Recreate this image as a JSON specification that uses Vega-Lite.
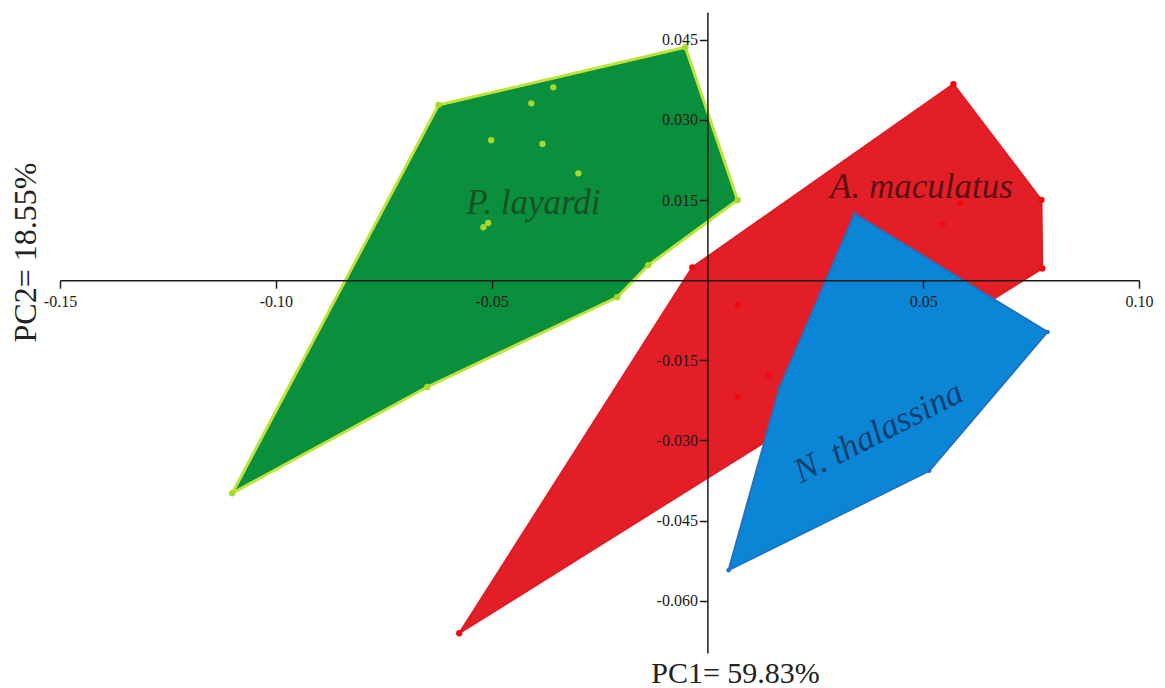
{
  "$schema": "https://vega.github.io/schema/vega-lite/v6.json",
  "width": 1079,
  "height": 641,
  "autosize": {"type": "none"},
  "padding": {"left": 60, "top": 12, "right": 26, "bottom": 35},
  "background": "white",
  "config": {
    "view": {"stroke": null},
    "axis": {
      "grid": false,
      "zindex": 1,
      "domainColor": "#1a1a1a",
      "domainWidth": 1.5,
      "tickColor": "#1a1a1a",
      "tickWidth": 1.5,
      "tickSize": 8,
      "labelFont": "Liberation Serif",
      "labelFontSize": 16,
      "labelColor": "#1a1a1a",
      "titleFont": "Liberation Serif",
      "titleFontWeight": "normal",
      "titleColor": "#222222"
    }
  },
  "datasets": {
    "pts": [
      {"species": "P. layardi", "pc1": -0.0623, "pc2": 0.0328, "hull": 1},
      {"species": "P. layardi", "pc1": -0.0051, "pc2": 0.0436, "hull": 2},
      {"species": "P. layardi", "pc1": 0.0070, "pc2": 0.0150, "hull": 3},
      {"species": "P. layardi", "pc1": -0.0137, "pc2": 0.0028, "hull": 4},
      {"species": "P. layardi", "pc1": -0.0209, "pc2": -0.0032, "hull": 5},
      {"species": "P. layardi", "pc1": -0.0649, "pc2": -0.0200, "hull": 6},
      {"species": "P. layardi", "pc1": -0.1101, "pc2": -0.0399, "hull": 7},
      {"species": "P. layardi", "pc1": -0.0357, "pc2": 0.0361, "hull": null},
      {"species": "P. layardi", "pc1": -0.0408, "pc2": 0.0331, "hull": null},
      {"species": "P. layardi", "pc1": -0.0501, "pc2": 0.0262, "hull": null},
      {"species": "P. layardi", "pc1": -0.0382, "pc2": 0.0255, "hull": null},
      {"species": "P. layardi", "pc1": -0.0299, "pc2": 0.0200, "hull": null},
      {"species": "P. layardi", "pc1": -0.0519, "pc2": 0.0099, "hull": null},
      {"species": "P. layardi", "pc1": -0.0508, "pc2": 0.0107, "hull": null},
      {"species": "A. maculatus", "pc1": 0.0570, "pc2": 0.0367, "hull": 1},
      {"species": "A. maculatus", "pc1": 0.0774, "pc2": 0.0150, "hull": 2},
      {"species": "A. maculatus", "pc1": 0.0776, "pc2": 0.0022, "hull": 3},
      {"species": "A. maculatus", "pc1": -0.0575, "pc2": -0.0661, "hull": 4},
      {"species": "A. maculatus", "pc1": -0.0035, "pc2": 0.0024, "hull": 5},
      {"species": "A. maculatus", "pc1": 0.0586, "pc2": 0.0144, "hull": null},
      {"species": "A. maculatus", "pc1": 0.0545, "pc2": 0.0105, "hull": null},
      {"species": "A. maculatus", "pc1": 0.0070, "pc2": -0.0047, "hull": null},
      {"species": "A. maculatus", "pc1": 0.0141, "pc2": -0.0178, "hull": null},
      {"species": "A. maculatus", "pc1": 0.0070, "pc2": -0.0219, "hull": null},
      {"species": "N. thalassina", "pc1": 0.0341, "pc2": 0.0124, "hull": 1},
      {"species": "N. thalassina", "pc1": 0.0788, "pc2": -0.0097, "hull": 2},
      {"species": "N. thalassina", "pc1": 0.0514, "pc2": -0.0357, "hull": 3},
      {"species": "N. thalassina", "pc1": 0.0049, "pc2": -0.0543, "hull": 4},
      {"species": "N. thalassina", "pc1": 0.0167, "pc2": -0.0202, "hull": 5}
    ],
    "labels": [
      {"species": "P. layardi", "pc1": -0.0403, "pc2": 0.0144, "angle": 0},
      {"species": "A. maculatus", "pc1": 0.0496, "pc2": 0.0174, "angle": 0},
      {"species": "N. thalassina", "pc1": 0.0396, "pc2": -0.0284, "angle": -27}
    ]
  },
  "encoding": {
    "x": {
      "field": "pc1",
      "type": "quantitative",
      "scale": {"domain": [-0.15, 0.10], "nice": false, "zero": false},
      "axis": {
        "orient": "bottom",
        "zindex": 2,
        "offset": -372.8,
        "values": [-0.15, -0.10, -0.05, 0.05, 0.10],
        "format": ".2f",
        "labelExpr": "replace(datum.label, '\u2212', '-')",
        "labelPadding": 5,
        "labelFlush": false,
        "labelOverlap": false,
        "title": "PC1= 59.83%",
        "titleFontSize": 30,
        "titleX": 675,
        "titleY": 402,
        "titleAnchor": "middle",
        "titleAlign": "center",
        "titleBaseline": "alphabetic"
      }
    },
    "y": {
      "field": "pc2",
      "type": "quantitative",
      "scale": {"domain": [-0.0698, 0.0502], "nice": false, "zero": false},
      "axis": {
        "orient": "left",
        "zindex": 2,
        "offset": -647.4,
        "values": [0.045, 0.030, 0.015, -0.015, -0.030, -0.045, -0.060],
        "format": ".3f",
        "labelExpr": "replace(datum.label, '\u2212', '-')",
        "labelPadding": 2,
        "labelFlush": false,
        "labelOverlap": false,
        "title": "PC2= 18.55%",
        "titleFontSize": 32,
        "titleAngle": -90,
        "titleX": -672.4,
        "titleY": 240,
        "titleAlign": "center",
        "titleBaseline": "alphabetic"
      }
    }
  },
  "layer": [
    {
      "data": {"name": "pts"},
      "transform": [{"filter": "datum.species === 'P. layardi' && datum.hull != null"}],
      "mark": {"type": "line", "interpolate": "linear-closed", "fill": "#0a8f3c", "stroke": "#bfe33a", "strokeWidth": 3, "strokeJoin": "round"},
      "encoding": {"order": {"field": "hull", "type": "quantitative"}}
    },
    {
      "data": {"name": "pts"},
      "transform": [{"filter": "datum.species === 'P. layardi'"}],
      "mark": {"type": "circle", "size": 40, "color": "#a8d82a", "opacity": 1},
      "encoding": {}
    },
    {
      "data": {"name": "pts"},
      "transform": [{"filter": "datum.species === 'A. maculatus' && datum.hull != null"}],
      "mark": {"type": "line", "interpolate": "linear-closed", "fill": "#e41e26", "stroke": "#e01c24", "strokeWidth": 2, "strokeJoin": "round"},
      "encoding": {"order": {"field": "hull", "type": "quantitative"}}
    },
    {
      "data": {"name": "pts"},
      "transform": [{"filter": "datum.species === 'A. maculatus'"}],
      "mark": {"type": "circle", "size": 40, "color": "#f5070f", "opacity": 1},
      "encoding": {}
    },
    {
      "data": {"name": "pts"},
      "transform": [{"filter": "datum.species === 'N. thalassina' && datum.hull != null"}],
      "mark": {"type": "line", "interpolate": "linear-closed", "fill": "#0b86d6", "stroke": "#1e72c4", "strokeWidth": 2, "strokeJoin": "round"},
      "encoding": {"order": {"field": "hull", "type": "quantitative"}}
    },
    {
      "data": {"name": "pts"},
      "transform": [{"filter": "datum.species === 'N. thalassina'"}],
      "mark": {"type": "circle", "size": 20, "color": "#2a6fbe", "opacity": 1},
      "encoding": {}
    },
    {
      "data": {"name": "labels"},
      "mark": {"type": "text", "font": "Liberation Serif", "fontStyle": "italic", "fontSize": 35, "align": "center", "baseline": "middle"},
      "encoding": {
        "text": {"field": "species"},
        "angle": {"field": "angle", "type": "quantitative", "scale": null},
        "color": {
          "field": "species",
          "type": "nominal",
          "scale": {"domain": ["P. layardi", "A. maculatus", "N. thalassina"], "range": ["#174f26", "#5a1014", "#0f3f6e"]},
          "legend": null
        }
      }
    }
  ]
}
